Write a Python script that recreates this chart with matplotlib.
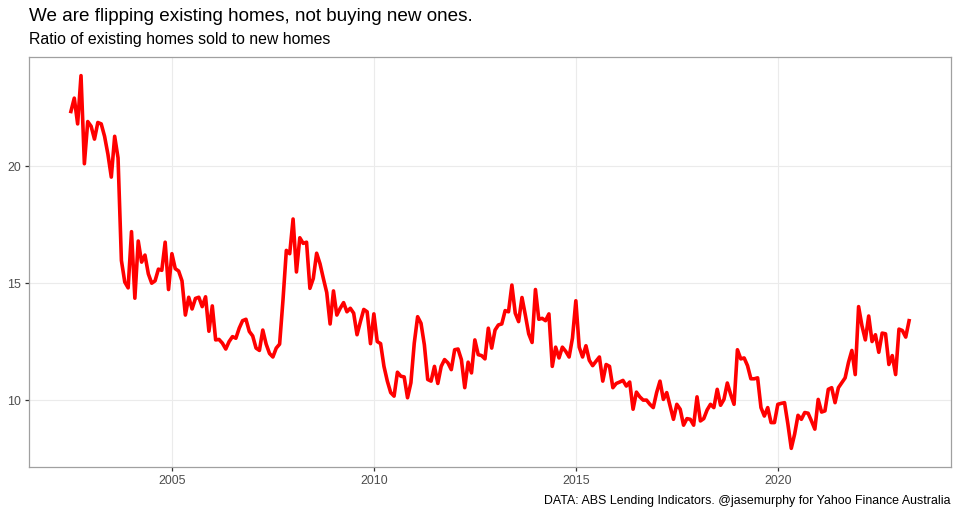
import matplotlib
matplotlib.use("Agg")
import matplotlib.pyplot as plt
import numpy as np

# Monthly ratio of existing homes sold to new homes, Jul 2002 - Apr 2023
start_year = 2002
start_month = 7
ratio = [
    22.33, 22.9, 21.8, 23.86, 20.1, 21.9, 21.7, 21.15, 21.86, 21.8,
    21.27, 20.5, 19.53, 21.27, 20.35, 15.97, 15.05, 14.8, 17.2, 14.36,
    16.8, 15.9, 16.2, 15.4, 15.0, 15.1, 15.6, 15.55, 16.75, 14.73,
    16.26, 15.62, 15.52, 15.1, 13.64, 14.4, 13.9, 14.35, 14.4, 14.0,
    14.42, 12.95, 14.03, 12.58, 12.6, 12.44, 12.19, 12.51, 12.72, 12.65,
    13.08, 13.4, 13.46, 12.94, 12.75, 12.23, 12.13, 13.0, 12.4, 12.0,
    11.85, 12.23, 12.4, 14.28, 16.4, 16.26, 17.74, 15.48, 16.94, 16.7,
    16.75, 14.78, 15.2, 16.28, 15.83, 15.2, 14.6, 13.26, 14.67, 13.64,
    13.93, 14.17, 13.78, 13.93,
    13.72, 12.8, 13.36, 13.88, 13.78, 12.42, 13.69, 12.51, 12.42, 11.45,
    10.82, 10.33, 10.18, 11.2, 11.03, 11.0, 10.11, 10.75, 12.44, 13.57,
    13.29, 12.37, 10.89, 10.82, 11.45, 10.72, 11.45, 11.74, 11.6, 11.31,
    12.16, 12.19, 11.74, 10.54, 11.63, 11.17, 12.58, 11.95, 11.91, 11.77,
    13.08, 12.23, 13.0, 13.22, 13.26, 13.83, 13.78, 14.92, 13.72, 13.36,
    14.39, 13.64, 12.84, 12.47, 14.73, 13.46, 13.5, 13.4, 13.69, 11.45,
    12.27, 11.81, 12.27, 12.09, 11.85, 12.66, 14.25, 12.27, 11.85, 12.33,
    11.71, 11.48, 11.67, 11.85, 10.82, 11.53, 11.45, 10.54, 10.72, 10.78,
    10.85, 10.61, 10.78,
    9.62, 10.35, 10.15, 10.01, 10.01, 9.83, 9.69, 10.33, 10.82, 10.04,
    10.33, 9.76, 9.19, 9.83, 9.62, 8.94, 9.22, 9.19, 8.94, 10.15,
    9.12, 9.22, 9.59, 9.83, 9.69, 10.47, 9.79, 10.04, 10.74, 10.25,
    9.83, 12.16, 11.77, 11.81, 11.48, 10.92, 10.92, 10.96, 9.69, 9.33,
    9.69, 9.05,
    9.05, 9.83, 9.87, 9.9, 8.98, 7.95, 8.56, 9.36, 9.19, 9.48,
    9.45, 9.12, 8.77, 10.04, 9.5, 9.55, 10.47, 10.54, 9.9, 10.54,
    10.75, 10.96, 11.62, 12.13, 11.1, 14.0, 13.18, 12.58, 13.6, 12.51,
    12.8, 12.05, 12.87, 12.84, 11.53, 11.91, 11.1, 13.04, 12.98, 12.7,
    13.4,
]
x_ticks = [2005, 2010, 2015, 2020]
y_ticks = [10, 15, 20]

title = "We are flipping existing homes, not buying new ones."
subtitle = "Ratio of existing homes sold to new homes"
caption = "DATA: ABS Lending Indicators. @jasemurphy for Yahoo Finance Australia"

years = start_year + (start_month - 1) / 12 + np.arange(len(ratio)) / 12.0
vals = np.array(ratio)

plt.rcParams['font.family'] = ['Liberation Sans', 'DejaVu Sans']

W, H = 959, 514
fig = plt.figure(figsize=(W / 100, H / 100), dpi=100)
left, right, top, bottom = 29, 951, 57, 467
ax = fig.add_axes([left / W, 1 - bottom / H, (right - left) / W, (bottom - top) / H])

ax.plot(years, vals, color='#FF0000', linewidth=2.6, solid_joinstyle='round', zorder=3)

xr = years.max() - years.min()
ax.set_xlim(years.min() - 0.05 * xr, years.max() + 0.05 * xr)
yr = vals.max() - vals.min()
ax.set_ylim(vals.min() - 0.05 * yr, vals.max() + 0.05 * yr)

ax.set_xticks(x_ticks)
ax.set_xticklabels([str(t) for t in x_ticks])
ax.set_yticks(y_ticks)
ax.set_yticklabels([str(t) for t in y_ticks])
ax.grid(True, color='#EBEBEB', linewidth=0.8, zorder=0)
ax.set_axisbelow(True)
for s in ax.spines.values():
    s.set_color('#A0A0A0')
    s.set_linewidth(0.9)
ax.tick_params(axis='both', length=2.6, width=0.9, color='#333333',
               labelcolor='#4D4D4D', labelsize=8.9, pad=3.2)

fig.text(left / W, 1 - 20.7 / H, title, fontsize=13.6, color='black', ha='left', va='baseline')
fig.text(left / W, 1 - 44.3 / H, subtitle, fontsize=11.4, color='black', ha='left', va='baseline')
fig.text(right / W, 1 - 504 / H, caption, fontsize=8.95, color='black', ha='right', va='baseline')

fig.savefig('out.png', dpi=100)
